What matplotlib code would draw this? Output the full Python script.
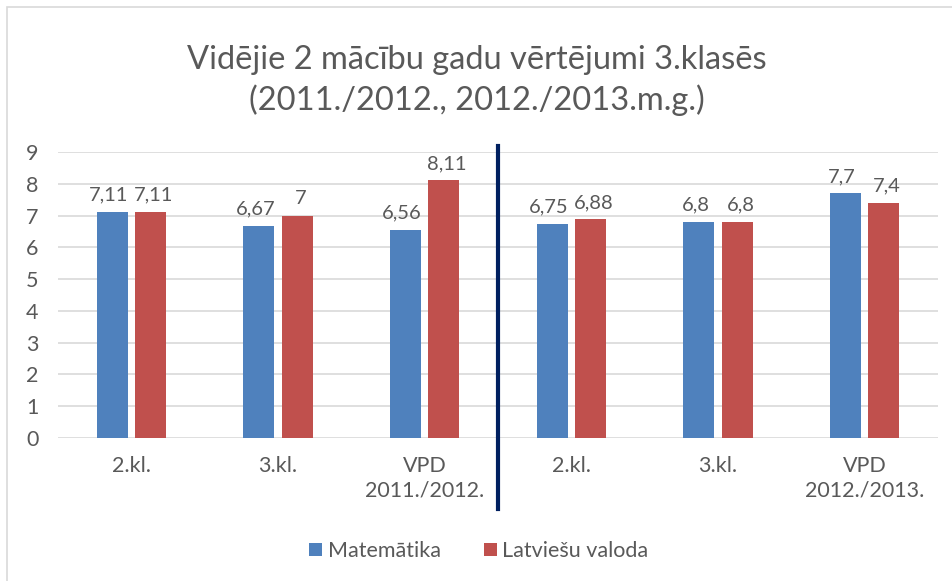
import matplotlib.pyplot as plt
import matplotlib.transforms as mtransforms
from matplotlib.patches import Rectangle
import numpy as np

plt.rcParams["font.family"] = ["Lato", "DejaVu Sans"]

categories = ["2.kl.", "3.kl.", "VPD\n2011./2012.", "2.kl.", "3.kl.", "VPD\n2012./2013."]
matematika = [7.11, 6.67, 6.56, 6.75, 6.8, 7.7]
latviesu = [7.11, 7.0, 8.11, 6.88, 6.8, 7.4]
labels_mat = ["7,11", "6,67", "6,56", "6,75", "6,8", "7,7"]
labels_lat = ["7,11", "7", "8,11", "6,88", "6,8", "7,4"]

BLUE = "#4F81BD"
RED = "#C0504D"
TEXT = "#595959"

fig = plt.figure(figsize=(9.52, 5.81), dpi=100)
ax = fig.add_axes([58 / 952, 1 - 438 / 581, 880 / 952, 286 / 581])

x = np.arange(len(categories))
w = 0.212
off = 0.13
b1 = ax.bar(x - off, matematika, w, color=BLUE, label="Matemātika", zorder=3)
b2 = ax.bar(x + off, latviesu, w, color=RED, label="Latviešu valoda", zorder=3)

# value labels, nudged slightly apart so neighbouring pairs don't collide
for xs, vals, labs, dx in [(x - off, matematika, labels_mat, -2.5),
                           (x + off, latviesu, labels_lat, 2.5)]:
    for xi, v, lab in zip(xs, vals, labs):
        ax.annotate(lab, (xi, v), xytext=(dx, 6), textcoords="offset points",
                    ha="center", va="bottom", fontsize=14.5, color=TEXT)

ax.set_xlim(-0.5, len(categories) - 0.5)
ax.set_ylim(0, 9)
ax.set_yticks(range(10))
ax.set_xticks(x)
ax.set_xticklabels(categories, fontsize=15.5, color=TEXT, linespacing=1.3)
ax.tick_params(axis="y", labelsize=15.5, labelcolor=TEXT, length=0, pad=14)
ax.tick_params(axis="x", length=0, pad=13)
ax.grid(axis="y", color="#D9D9D9", linewidth=1.2, zorder=0)
for s in ax.spines.values():
    s.set_visible(False)

# vertical separator between the two school years
trans = mtransforms.blended_transform_factory(ax.transData, ax.transAxes)
ax.plot([2.5, 2.5], [-0.248, 1.021], transform=trans, color="#002060",
        linewidth=3, clip_on=False, zorder=4)

fig.text(0.501, 1 - 60 / 581, "Vidējie 2 mācību gadu vērtējumi 3.klasēs",
         ha="center", va="center", fontsize=23.5, color=TEXT)
fig.text(0.501, 1 - 100 / 581, "(2011./2012., 2012./2013.m.g.)",
         ha="center", va="center", fontsize=23.5, color=TEXT)

fig.legend(handles=[b1, b2], loc="center", bbox_to_anchor=(0.503, 1 - 551 / 581),
           ncol=2, frameon=False, fontsize=15.5, labelcolor=TEXT,
           handlelength=0.6, handleheight=0.6, handletextpad=0.25, columnspacing=2.0)

fig.patches.append(Rectangle((7 / 952, -0.1), 1.2, 1 - 7 / 581 + 0.1,
                             transform=fig.transFigure, fill=False,
                             edgecolor="#D9D9D9", linewidth=1.2))

fig.savefig("out.png", dpi=100)
